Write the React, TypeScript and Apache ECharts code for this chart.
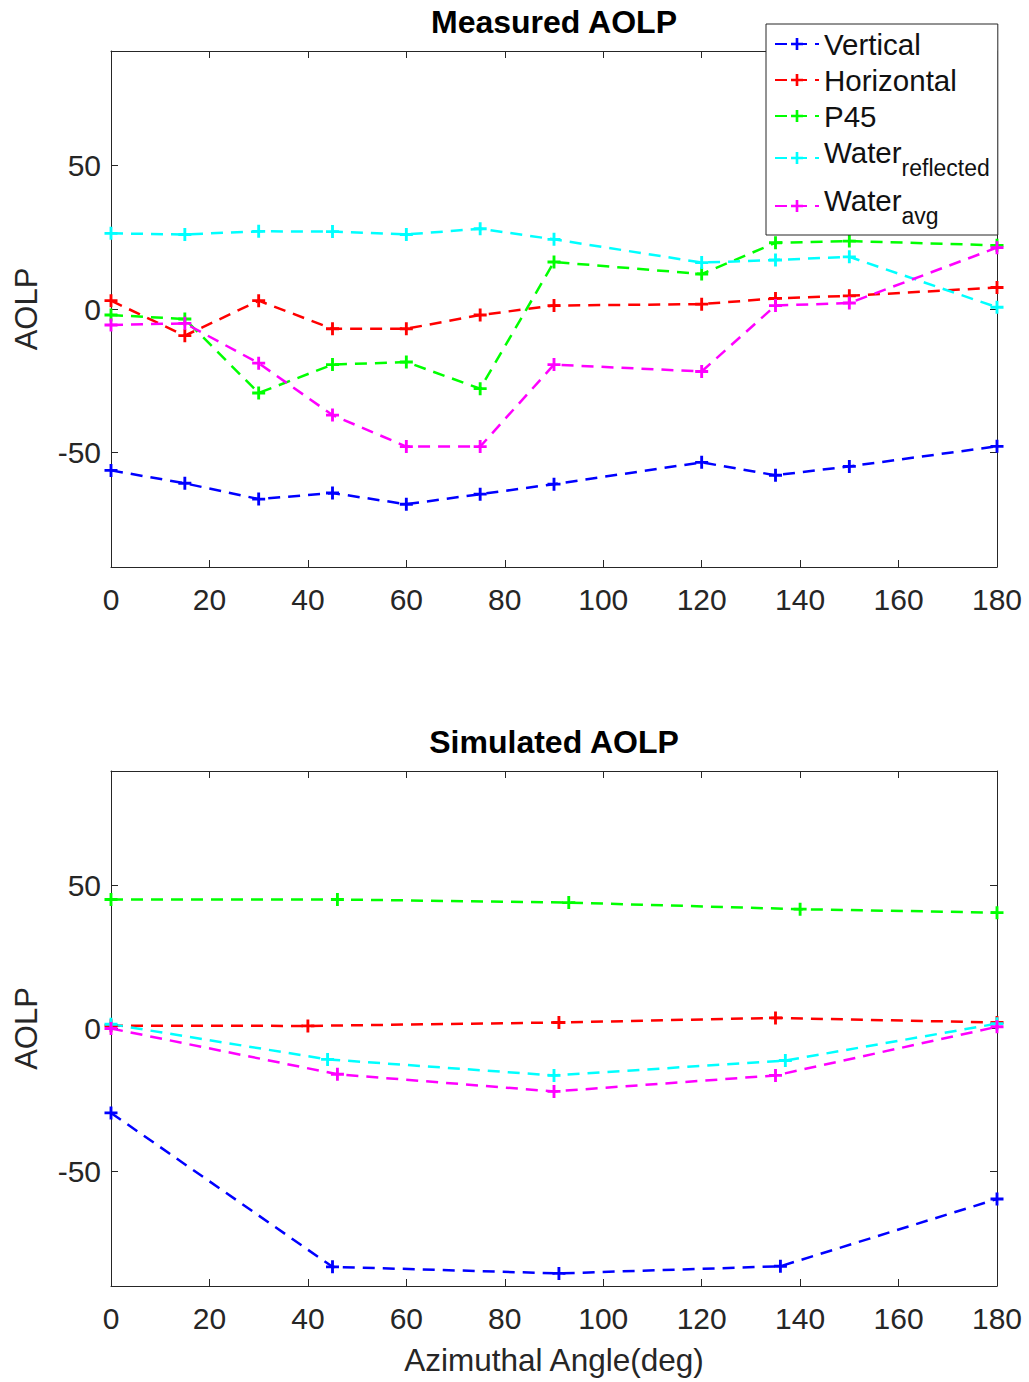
import React, { useEffect, useRef } from 'react';
import * as echarts from 'echarts';

// ---------- Data ----------
const seriesNames = ['Vertical', 'Horizontal', 'P45', 'Water_reflected', 'Water_avg'];
const seriesColors = ['#0000ff', '#ff0000', '#00ff00', '#00ffff', '#ff00ff'];

// Measured AOLP (top plot)
const measuredX = [0, 15, 30, 45, 60, 75, 90, 120, 135, 150, 180];
const mVertical = [-56.3, -60.8, -66.3, -64.2, -68.1, -64.6, -61.1, -53.5, -58.0, -54.9, -47.9];
const mHorizontal = [2.9, -9.3, 2.9, -6.9, -6.9, -2.1, 1.2, 1.7, 3.7, 4.6, 7.5];
const mP45 = [-2.1, -3.5, -29.3, -19.4, -18.5, -27.8, 16.4, 12.2, 23.1, 23.7, 22.2];
const mWaterReflected = [26.4, 26.0, 27.1, 27.0, 26.0, 28.0, 24.3, 16.2, 17.1, 18.2, 0.6];
const mWaterAvg = [-5.6, -5.0, -18.9, -37.0, -48.0, -48.0, -19.4, -21.8, 1.2, 2.1, 21.4];

// Simulated AOLP (bottom plot)
const sVerticalX = [0, 45, 91, 136, 180];
const sVertical = [-29.5, -83.3, -85.6, -83.1, -59.6];
const sHorizontalX = [0, 40, 91, 135, 180];
const sHorizontal = [1.0, 0.9, 2.1, 3.7, 2.1];
const sP45X = [0, 46, 93, 140, 180];
const sP45 = [45.1, 45.1, 44.0, 41.7, 40.5];
const sWaterReflectedX = [0, 44, 90, 137, 180];
const sWaterReflected = [1.5, -10.8, -16.4, -11.2, 1.7];
const sWaterAvgX = [0, 46, 90, 135, 180];
const sWaterAvg = [0.0, -16.0, -22.0, -16.4, 0.6];

const yTicks = [-50, 0, 50];
const xTickInterval = 20;

const titles = ['Measured AOLP', 'Simulated AOLP'];
const yName = 'AOLP';
const xName = 'Azimuthal Angle(deg)';

// ---------- Styling ----------
const FONT = '"Liberation Sans", Arial, Helvetica, sans-serif';
const AXIS_COLOR = '#262626';
const PLUS = 'path://M3.9,0H6.1V3.9H10V6.1H6.1V10H3.9V6.1H0V3.9H3.9Z';

const zip = (xs: number[], ys: number[]) => xs.map((x, i) => [x, ys[i]]);

export default function App() {
  const ref = useRef<HTMLDivElement>(null);

  useEffect(() => {
    document.body.style.margin = '0';
    const chart = echarts.init(ref.current!, null, { renderer: 'svg' });

    const grids = [
      { left: 111, top: 51, width: 886, height: 516, outerBoundsMode: 'none' },
      { left: 111, top: 771, width: 886, height: 515, outerBoundsMode: 'none' },
    ];

    const xAxes: any[] = [];
    const yAxes: any[] = [];
    [0, 1].forEach((g) => {
      const baseX = {
        gridIndex: g,
        type: 'value',
        min: 0,
        max: 180,
        interval: xTickInterval,
        splitLine: { show: false },
        axisLine: { show: true, onZero: false, lineStyle: { color: AXIS_COLOR, width: 1 } },
        axisTick: { show: true, inside: true, length: 7, lineStyle: { color: AXIS_COLOR, width: 1 } },
      };
      xAxes.push({
        ...baseX,
        position: 'bottom',
        axisLabel: { show: true, fontSize: 30, color: AXIS_COLOR, fontFamily: FONT, margin: 17 },
        ...(g === 1
          ? {
              name: xName,
              nameLocation: 'middle',
              nameGap: 58,
              nameTextStyle: { fontSize: 31.5, color: AXIS_COLOR, fontFamily: FONT },
            }
          : {}),
      });
      xAxes.push({ ...baseX, position: 'top', axisLabel: { show: false } });

      const baseY = {
        gridIndex: g,
        type: 'value',
        min: -90,
        max: 90,
        splitLine: { show: false },
        axisLine: { show: true, onZero: false, lineStyle: { color: AXIS_COLOR, width: 1 } },
        axisTick: {
          show: true,
          inside: true,
          length: 7,
          customValues: yTicks,
          lineStyle: { color: AXIS_COLOR, width: 1 },
        },
      };
      yAxes.push({
        ...baseY,
        position: 'left',
        axisLabel: {
          show: true,
          customValues: yTicks,
          fontSize: 30,
          color: AXIS_COLOR,
          fontFamily: FONT,
          margin: 10,
        },
        name: yName,
        nameLocation: 'middle',
        nameGap: 69,
        nameTextStyle: { fontSize: 31, color: AXIS_COLOR, fontFamily: FONT },
      });
      yAxes.push({ ...baseY, position: 'right', axisLabel: { show: false } });
    });

    const measuredData = [mVertical, mHorizontal, mP45, mWaterReflected, mWaterAvg];
    const simulatedData = [
      zip(sVerticalX, sVertical),
      zip(sHorizontalX, sHorizontal),
      zip(sP45X, sP45),
      zip(sWaterReflectedX, sWaterReflected),
      zip(sWaterAvgX, sWaterAvg),
    ];

    const mkSeries = (name: string, color: string, data: number[][], g: number) => ({
      name,
      type: 'line',
      xAxisIndex: g * 2,
      yAxisIndex: g * 2,
      data,
      symbol: PLUS,
      symbolSize: 13,
      showSymbol: true,
      showAllSymbol: true,
      itemStyle: { color },
      lineStyle: { color, width: 2.5, type: [12, 8] },
      emphasis: { disabled: true },
      silent: true,
    });

    const series: any[] = [];
    seriesNames.forEach((n, i) =>
      series.push(mkSeries(n, seriesColors[i], zip(measuredX, measuredData[i]), 0)),
    );
    seriesNames.forEach((n, i) => series.push(mkSeries(n, seriesColors[i], simulatedData[i], 1)));

    const legendLabel: Record<string, string> = {
      Vertical: '{m|Vertical}',
      Horizontal: '{m|Horizontal}',
      P45: '{m|P45}',
      Water_reflected: '{m|Water}{s|reflected}',
      Water_avg: '{m|Water}{s|avg}',
    };

    const option: any = {
      animation: false,
      backgroundColor: '#ffffff',
      title: titles.map((t, i) => ({
        text: t,
        left: 554,
        textAlign: 'center',
        top: i === 0 ? 6 : 726,
        padding: 0,
        textStyle: { fontSize: 32, fontWeight: 'bold', color: '#000', fontFamily: FONT },
      })),
      legend: {
        data: seriesNames,
        orient: 'vertical',
        left: 766,
        top: 24,
        padding: [5, 8, 8, 8],
        itemGap: 6,
        itemWidth: 44,
        itemHeight: 15,
        selectedMode: false,
        backgroundColor: '#ffffff',
        borderColor: AXIS_COLOR,
        borderWidth: 1,
        borderRadius: 0,
        formatter: (n: string) => legendLabel[n] || n,
        textStyle: {
          color: '#111',
          fontFamily: FONT,
          fontSize: 29.5,
          rich: {
            m: { fontSize: 29.5, lineHeight: 30, verticalAlign: 'top', color: '#111', fontFamily: FONT },
            s: {
              fontSize: 23,
              padding: [19, 0, 0, 0],
              verticalAlign: 'bottom',
              color: '#111',
              fontFamily: FONT,
            },
          },
        },
      },
      grid: grids,
      xAxis: xAxes,
      yAxis: yAxes,
      series,
    };

    chart.setOption(option);
    return () => chart.dispose();
  }, []);

  return <div ref={ref} style={{ width: 1029, height: 1382 }} />;
}
